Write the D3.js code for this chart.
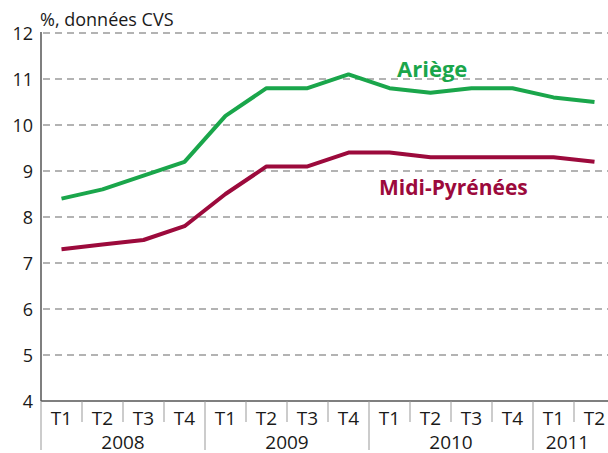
<!DOCTYPE html>
<html>
<head>
<meta charset="utf-8">
<script src="https://cdn.jsdelivr.net/npm/d3@7"></script>
<style>
  body { margin: 0; background: #fff; }
  svg { display: block; font-family: "Open Sans", "Noto Sans", sans-serif; }
</style>
</head>
<body>
<div id="chart"></div>
<script>
var width = 608, height = 453;

// data
var quarters = ["T1", "T2", "T3", "T4", "T1", "T2", "T3", "T4", "T1", "T2", "T3", "T4", "T1", "T2"];
var years = ["2008", "2009", "2010", "2011"];
var yearQuarters = [4, 4, 4, 2];
var ariege = [8.4, 8.6, 8.9, 9.2, 10.2, 10.8, 10.8, 11.1, 10.8, 10.7, 10.8, 10.8, 10.6, 10.5];
var midiPyrenees = [7.3, 7.4, 7.5, 7.8, 8.5, 9.1, 9.1, 9.4, 9.4, 9.3, 9.3, 9.3, 9.3, 9.2];
var yTicks = [4, 5, 6, 7, 8, 9, 10, 11, 12];

var plotLeft = 41, plotTop = 33, plotBottom = 401;
var band = 41;

var svg = d3.select("#chart")
  .append("svg")
  .attr("width", width)
  .attr("height", height);

var x = d3.scaleBand()
  .domain(d3.range(quarters.length))
  .range([plotLeft, plotLeft + band * quarters.length])
  .padding(0);

var y = d3.scaleLinear()
  .domain([4, 12])
  .range([plotBottom, plotTop]);

// gridlines
svg.append("g")
  .selectAll("line")
  .data(yTicks.filter(d => d > 4))
  .enter().append("line")
  .attr("x1", plotLeft + 2)
  .attr("x2", width)
  .attr("y1", d => y(d))
  .attr("y2", d => y(d))
  .attr("stroke", "#9a9a9a")
  .attr("stroke-width", 1.3)
  .attr("stroke-dasharray", "7,5");

// y tick labels
svg.append("g")
  .selectAll("text")
  .data(yTicks)
  .enter().append("text")
  .attr("x", 33)
  .attr("y", d => y(d) + 7)
  .attr("text-anchor", "end")
  .style("font-size", "18px")
  .style("fill", "#1a1a1a")
  .text(d => d);

// unit label
svg.append("text")
  .attr("x", 40)
  .attr("y", 26)
  .style("font-size", "18px")
  .style("fill", "#1a1a1a")
  .text("%, données CVS");

// axes lines
svg.append("line")
  .attr("x1", plotLeft).attr("x2", plotLeft)
  .attr("y1", plotTop - 1).attr("y2", plotBottom)
  .attr("stroke", "#555").attr("stroke-width", 1.5);

svg.append("line")
  .attr("x1", plotLeft).attr("x2", width)
  .attr("y1", plotBottom).attr("y2", plotBottom)
  .attr("stroke", "#555").attr("stroke-width", 1.5);

// quarter dividers and labels
var yearStart = [];
var acc = 0;
yearQuarters.forEach(function(n) { yearStart.push(acc); acc += n; });

svg.append("g")
  .selectAll("line")
  .data(d3.range(quarters.length))
  .enter().append("line")
  .attr("x1", d => x(d))
  .attr("x2", d => x(d))
  .attr("y1", plotBottom)
  .attr("y2", d => yearStart.indexOf(d) >= 0 ? 450 : 422)
  .attr("stroke", "#999")
  .attr("stroke-width", 1);

svg.append("g")
  .selectAll("text")
  .data(quarters)
  .enter().append("text")
  .attr("x", (d, i) => x(i) + x.bandwidth() / 2)
  .attr("y", 425)
  .attr("text-anchor", "middle")
  .style("font-size", "19px")
  .style("fill", "#1a1a1a")
  .text(d => d);

svg.append("g")
  .selectAll("text")
  .data(years)
  .enter().append("text")
  .attr("x", function(d, i) {
    var s = x(yearStart[i]);
    var e = x(yearStart[i]) + yearQuarters[i] * band;
    return i == years.length - 1 ? (s + width) / 2 - 3 : (s + e) / 2;
  })
  .attr("y", 449)
  .attr("text-anchor", "middle")
  .style("font-size", "19px")
  .style("fill", "#1a1a1a")
  .text(d => d);

// lines
var line = d3.line()
  .x((d, i) => x(i) + x.bandwidth() / 2)
  .y(d => y(d));

svg.append("path")
  .datum(ariege)
  .attr("fill", "none")
  .attr("stroke", "#1aa64b")
  .attr("stroke-width", 4)
  .attr("stroke-linejoin", "round")
  .attr("d", line);

svg.append("path")
  .datum(midiPyrenees)
  .attr("fill", "none")
  .attr("stroke", "#9c0a3c")
  .attr("stroke-width", 4)
  .attr("stroke-linejoin", "round")
  .attr("d", line);

// series labels
svg.append("text")
  .attr("x", 397)
  .attr("y", 77)
  .style("font-size", "22px")
  .style("font-weight", "bold")
  .style("fill", "#1aa64b")
  .text("Ariège");

svg.append("text")
  .attr("x", 379)
  .attr("y", 195)
  .style("font-size", "21px")
  .style("font-weight", "bold")
  .style("fill", "#9c0a3c")
  .text("Midi-Pyrénées");
</script>
</body>
</html>
